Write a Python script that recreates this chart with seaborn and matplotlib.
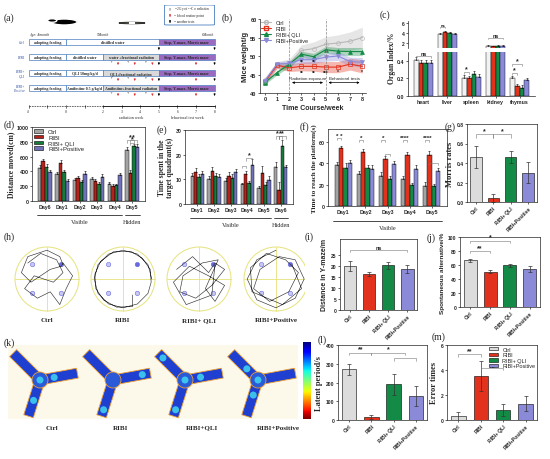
import matplotlib

matplotlib.use("Agg")

import matplotlib.pyplot as plt
from matplotlib.lines import Line2D
from matplotlib.patches import Circle, Ellipse, FancyBboxPatch, Patch, Polygon, Rectangle
import numpy as np
import pandas as pd
import seaborn as sns

W, H = 550, 460

GROUPS = ["Ctrl", "RIBI", "RIBI+ QLI", "RIBI+Positive"]
BAR_COLORS = ["#dcdcdc", "#e2321e", "#138a45", "#8a8ad8"]
DARK_COLORS = ["#a3a3a3", "#b3221b", "#177a3c", "#6f72b8"]

# (b) body weight
weeks = [0, 1, 2, 3, 4, 5, 6, 7, 8]
weight_ctrl = [43.5, 47.5, 48.0, 51.5, 52.0, 53.2, 53.5, 54.0, 55.0]
weight_ribi = [43.0, 47.5, 46.8, 47.2, 47.2, 47.0, 47.0, 47.8, 47.2]
weight_qli = [42.8, 45.5, 47.8, 50.5, 49.8, 51.7, 51.3, 51.2, 51.2]
weight_pos = [43.3, 47.8, 48.0, 49.0, 49.0, 49.7, 50.0, 48.5, 48.3]
sd_ctrl = [0.8, 1.0, 1.2, 1.5, 1.8, 2.0, 2.2, 2.5, 2.8]
sd_ribi = [0.6, 0.8, 1.0, 1.2, 1.3, 1.5, 1.5, 1.6, 1.8]
sd_qli = [0.5, 0.6, 0.8, 0.8, 0.9, 0.9, 1.0, 1.1, 1.1]
sd_pos = [0.6, 0.6, 0.8, 1.0, 1.1, 1.1, 1.2, 1.2, 1.3]

# (c) organ index
organs = ["heart", "liver", "spleen", "kidney", "thymus"]
organ_ctrl = [0.41, 3.9, 0.21, 1.50, 0.20]
organ_ribi = [0.38, 4.3, 0.20, 1.42, 0.11]
organ_qli = [0.38, 4.0, 0.25, 1.50, 0.09]
organ_pos = [0.38, 3.8, 0.22, 1.46, 0.18]
organ_err = [0.03, 0.25, 0.03, 0.08, 0.03]

# (d) distance moved
d_days = ["Day6", "Day1", "Day2", "Day3", "Day4", "Day5"]
d_ctrl = [440, 360, 280, 300, 230, 690]
d_ribi = [540, 510, 310, 270, 200, 375]
d_qli = [460, 395, 260, 230, 210, 745]
d_pos = [395, 270, 370, 330, 350, 730]
d_err_ctrl = [40, 35, 25, 30, 30, 45]
d_err_ribi = [30, 40, 30, 25, 25, 50]
d_err_qli = [40, 30, 25, 25, 25, 30]
d_err_pos = [30, 25, 40, 35, 30, 35]

# (e) time in target quadrant
e_days = ["Day1", "Day2", "Day3", "Day4", "Day5", "Day6"]
e_ctrl = [11.5, 10.3, 9.5, 8.0, 6.5, 15.0]
e_ribi = [13.0, 13.3, 11.3, 12.0, 12.5, 5.5]
e_qli = [11.0, 11.5, 10.5, 8.5, 7.8, 23.5]
e_pos = [12.0, 11.0, 12.8, 15.8, 9.7, 15.0]
e_err_ctrl = [1.2, 1.0, 1.2, 0.6, 0.8, 2.0]
e_err_ribi = [1.5, 1.5, 1.5, 1.5, 3.0, 3.5]
e_err_qli = [1.3, 1.0, 1.5, 0.8, 1.0, 2.5]
e_err_pos = [1.3, 1.3, 1.5, 2.5, 1.5, 1.0]

# (f) escape latency
f_days = ["Day1", "Day2", "Day3", "Day4", "Day5"]
f_ctrl = [38.0, 29.5, 28.5, 25.0, 19.0]
f_ribi = [54.0, 50.5, 44.0, 47.5, 48.0]
f_qli = [36.0, 35.5, 25.5, 19.5, 18.5]
f_pos = [40.0, 35.0, 39.0, 35.0, 33.0]
f_err_ctrl = [3, 3, 3, 3, 3]
f_err_ribi = [2, 3, 3, 3, 3]
f_err_qli = [4, 3, 3, 2, 2]
f_err_pos = [3, 3, 3, 3, 3]

# single bar panels
morris_rates = [0.46, 0.04, 0.46, 0.30]
morris_err = [0.11, 0.04, 0.06, 0.11]
ymaze_dist = [19.8, 16.3, 20.2, 18.5]
ymaze_dist_err = [2.2, 0.8, 1.5, 1.7]
alternation = [67.0, 50.5, 59.5, 54.0]
alternation_err = [2.0, 2.0, 2.5, 4.5]
latent_period = [270, 18, 190, 128]
latent_err = [30, 10, 55, 55]
error_times = [0.3, 3.5, 0.8, 1.3]
error_err = [0.35, 1.2, 0.5, 0.6]

# (h) swim paths, in units of pool radius
path_ctrl = [(-0.6, 0.5), (-0.2, 0.8), (0.3, 0.6), (0.5, 0.2), (0.2, -0.1), (-0.4, 0.1),
             (-0.7, -0.3), (-0.3, -0.6), (0.1, -0.4), (0.4, -0.8), (0.6, -0.3), (0.8, 0.1),
             (0.5, 0.5), (0.45, 0.4), (0.1, 0.3), (-0.5, -0.1), (-0.8, 0.2), (-0.6, 0.7),
             (0.0, 0.9), (0.4, 0.7), (0.5, 0.45)]
path_ribi = [(0.9, 0.0), (0.78, 0.45), (0.45, 0.78), (0.0, 0.9), (-0.45, 0.78), (-0.78, 0.45),
             (-0.9, 0.0), (-0.78, -0.45), (-0.45, -0.78), (0.0, -0.9), (0.45, -0.78),
             (0.78, -0.45), (0.88, -0.1), (0.85, 0.3), (0.6, 0.65), (0.25, 0.86),
             (-0.3, 0.85), (-0.7, 0.55), (-0.88, 0.15), (-0.85, -0.3), (-0.6, -0.66),
             (-0.2, -0.88), (0.3, -0.86), (0.3, -0.5)]
path_qli = [(-0.7, 0.3), (-0.2, 0.7), (0.3, 0.2), (0.5, 0.5), (0.8, 0.3), (0.4, -0.2),
            (-0.1, -0.6), (-0.6, -0.4), (-0.5, 0.1), (0.1, 0.5), (0.6, 0.6), (0.2, -0.3),
            (0.5, -0.7), (0.8, -0.2), (0.3, 0.1), (-0.3, 0.4), (-0.8, -0.1), (-0.4, -0.8),
            (0.4, -0.5), (0.5, 0.45)]
path_pos = [(0.0, 0.9), (-0.6, 0.6), (-0.9, 0.0), (-0.6, -0.65), (0.0, -0.9), (0.6, -0.6),
            (0.88, 0.0), (0.6, 0.6), (0.1, 0.7), (-0.5, 0.3), (-0.7, -0.3), (-0.2, -0.7),
            (0.4, -0.4), (0.7, 0.2), (0.3, 0.6), (-0.3, 0.8), (-0.8, 0.35), (-0.75, -0.4),
            (0.2, -0.8), (0.8, -0.3), (0.5, 0.45)]
swim_paths = [path_ctrl, path_ribi, path_qli, path_pos]

# (k) bright spots in the Y-maze heat maps: (arm, fraction along arm)
spots_ctrl = [(None, 0.0), (2, 0.55), (1, 0.3)]
spots_ribi = [(1, 0.85), (2, 0.9)]
spots_qli = [(0, 0.9), (None, 0.0), (1, 0.35), (2, 0.9)]
spots_pos = [(None, 0.0), (0, 0.35), (2, 0.35)]
maze_spots = [spots_ctrl, spots_ribi, spots_qli, spots_pos]

sns.set_style("ticks")
plt.rcParams["font.family"] = ["Liberation Sans", "DejaVu Sans"]
plt.rcParams["axes.linewidth"] = 0.5
plt.rcParams["xtick.major.width"] = 0.5
plt.rcParams["ytick.major.width"] = 0.5
plt.rcParams["xtick.major.size"] = 1.5
plt.rcParams["ytick.major.size"] = 1.5
plt.rcParams["xtick.major.pad"] = 1
plt.rcParams["ytick.major.pad"] = 1

SERIF = ["Liberation Serif", "DejaVu Serif"]

fig = plt.figure(figsize=(5.5, 4.6), dpi=100)


def px_axes(x0, y0, x1, y1):
    return fig.add_axes([x0 / W, 1 - y1 / H, (x1 - x0) / W, (y1 - y0) / H])


def panel_label(x, y, text):
    fig.text(x / W, 1 - y / H, text, family=SERIF, fontsize=7, va="center", ha="left")


def style_ticks(ax, size=3.8):
    ax.tick_params(labelsize=size)
    for lab in ax.get_xticklabels() + ax.get_yticklabels():
        lab.set_fontweight("bold")


def bracket(ax, x1, x2, y, h, text, fs=5, color="#777777"):
    ax.plot([x1, x1, x2, x2], [y - h, y, y, y - h], color=color, lw=0.4, clip_on=False)
    ax.text((x1 + x2) / 2, y, text, ha="center", va="bottom", fontsize=fs,
            fontweight="bold", clip_on=False)


def grouped_bars(ax, days, values, errors, colors):
    rows = []
    for g, vals in zip(GROUPS, values):
        for d, v in zip(days, vals):
            rows.append({"day": d, "group": g, "value": v})
    df = pd.DataFrame(rows)
    sns.barplot(data=df, x="day", y="value", hue="group", hue_order=GROUPS,
                palette=colors, saturation=1, errorbar=None, edgecolor="black",
                linewidth=0.3, width=0.8, legend=False, ax=ax)
    centers = []
    for cont, vals, errs in zip(ax.containers, values, errors):
        xs = [b.get_x() + b.get_width() / 2 for b in cont]
        ax.errorbar(xs, vals, yerr=[[0] * len(errs), errs], fmt="none", ecolor="black",
                    elinewidth=0.4, capsize=0.8, capthick=0.4)
        centers.append(xs)
    ax.set_xlabel("")
    ax.set_ylabel("")
    return centers


def group_line(ax, x1, x2, text):
    tr = ax.get_xaxis_transform()
    ax.plot([x1, x2], [-0.19, -0.19], color="black", lw=0.5, transform=tr, clip_on=False)
    ax.text((x1 + x2) / 2, -0.25, text, transform=tr, ha="center", va="top",
            family=SERIF, fontsize=4.5)


def single_bars(ax, values, errors, ylim, yticks, ylabel, serif=False, label_fs=None):
    sns.barplot(x=GROUPS, y=values, hue=GROUPS, palette=BAR_COLORS, saturation=1,
                edgecolor="black", linewidth=0.4, width=0.65, errorbar=None,
                legend=False, ax=ax)
    xs = [b.get_x() + b.get_width() / 2 for c in ax.containers for b in c]
    ax.errorbar(xs, values, yerr=errors, fmt="none", ecolor="#333333",
                elinewidth=0.5, capsize=1.5, capthick=0.5)
    ax.set_ylim(ylim)
    ax.set_yticks(yticks)
    ax.set_xticks(range(len(GROUPS)))
    ax.set_xticklabels(GROUPS, rotation=45, ha="right", rotation_mode="anchor")
    style_ticks(ax, 3.6)
    if serif:
        ax.set_ylabel(ylabel, family=SERIF, fontsize=label_fs or 6, fontweight="bold",
                      labelpad=2)
    else:
        ax.set_ylabel(ylabel, fontsize=label_fs or 5, fontweight="bold", labelpad=2)
    return xs


# ---------------- (a) schematic ----------------
panel_label(4, 18, "(a)")
ax = px_axes(10, 6, 222, 124)
ax.set_xlim(-3.02, 8.4)
ax.set_ylim(124, 6)
ax.axis("off")

row_y = [43, 58, 74, 89]
row_names = ["Ctrl", "RIBI", "RIBI+\nQLI", "RIBI+\nPositive"]
mid_text = ["distilled water", "distilled water", "QLI 50mg/kg/d", "Amifostine 0.5 g/kg/d"]
rad_text = [None, "water +fractional radiation", "QLI+fractional radiation",
            "Amifostine+fractional radiation"]
for y, name, mt, rt in zip(row_y, row_names, mid_text, rad_text):
    ax.text(-2.25, y, name, ha="right", va="center", fontsize=2.6, style="italic",
            color="#3050a0", family=SERIF)
    ax.add_patch(Rectangle((-2, y - 3), 2, 6, fc="white", ec="#4a7fc0", lw=0.5))
    ax.text(-1, y, "adopting feeding", ha="center", va="center", fontsize=2.8,
            family=SERIF, fontweight="bold")
    end_mid = 5 if rt is None else 2
    ax.add_patch(Rectangle((0, y - 3), end_mid, 6, fc="white", ec="#4a7fc0", lw=0.5))
    ax.text(end_mid / 2, y, mt, ha="center", va="center", fontsize=2.8, family=SERIF,
            fontweight="bold")
    if rt is not None:
        ax.add_patch(Rectangle((2, y - 3), 3, 6, fc="#d9d9d9", ec="#4a7fc0", lw=0.5))
        ax.text(3.5, y, rt, ha="center", va="center", fontsize=2.8, family=SERIF,
                fontweight="bold")
        for xa in [2.8, 3.7, 4.65]:
            ax.annotate("", xy=(xa, y + 8), xytext=(xa, y + 3.5),
                        arrowprops=dict(arrowstyle="-|>", color="#e03030", lw=0.5,
                                        mutation_scale=2.5))
            ax.annotate("", xy=(xa - 0.35, y + 6), xytext=(xa - 0.35, y + 3.5),
                        arrowprops=dict(arrowstyle="-|>", color="#aaaaaa", lw=0.4,
                                        mutation_scale=2))
        ax.annotate("", xy=(7, y + 8), xytext=(7, y + 3.5),
                    arrowprops=dict(arrowstyle="-|>", color="#e03030", lw=0.5,
                                    mutation_scale=2.5))
    ax.add_patch(Rectangle((5, y - 3), 3, 6, fc="#9a6ac0", ec="#4a7fc0", lw=0.5))
    ax.text(6.5, y, "Step, Y-maze, Morris maze", ha="center", va="center", fontsize=2.8,
            family=SERIF, fontweight="bold")
    for xa in [5, 8]:
        ax.annotate("", xy=(xa, y + 8), xytext=(xa, y + 3),
                    arrowprops=dict(arrowstyle="-|>", color="black", lw=0.5,
                                    mutation_scale=2.5))

ax.plot([-2, 2], [107, 107], color="#555555", lw=0.6, ls=(0, (2, 1)))
ax.plot([2, 8], [107, 107], color="black", lw=0.6)
for t in [-2, -1, 0, 1, 2, 3, 4, 5, 6, 7, 8]:
    ax.plot([t, t], [105.5, 108.5], color="black", lw=0.4)
for t in [-2, 0, 2, 3, 4, 5, 6, 7, 8]:
    ax.text(t, 112, str(t), ha="center", va="center", fontsize=2.8, family=SERIF)
ax.text(3.5, 118, "radiation week", ha="center", va="center", fontsize=3, family=SERIF)
ax.text(6.5, 118, "behavioral test week", ha="center", va="center", fontsize=3,
        family=SERIF)
ax.text(-2, 35, "Age: 4month", ha="left", va="center", fontsize=2.8, family=SERIF,
        style="italic")
ax.text(2, 35, "5Month", ha="center", va="center", fontsize=2.8, family=SERIF,
        style="italic")
ax.text(8, 35, "6Month", ha="right", va="center", fontsize=2.8, family=SERIF,
        style="italic")
# mouse and radiation icons
ax.add_patch(Ellipse((-0.1, 23), 1.4, 6, fc="black"))
ax.add_patch(Ellipse((-0.75, 21.5), 0.5, 3.5, fc="black"))
ax.add_patch(Circle((3.55, 24), 0.7, fc="#f2dc3a", ec="#333333", lw=0.8))
ax.add_patch(Circle((3.55, 24), 0.15, fc="#333333"))
# legend box
ax.add_patch(FancyBboxPatch((5.3, 6), 2.7, 20, boxstyle="round,pad=0,rounding_size=0.3",
                            fc="white", ec="#4a7fc0", lw=0.6))
leg_items = [("#aaaaaa", "= 2Gy of $^{60}$Co-radiation"), ("#e03030", "= blood routine point"),
             ("black", "= another tests")]
for i, (c, t) in enumerate(leg_items):
    yy = 10 + i * 6
    ax.annotate("", xy=(5.6, yy + 1.8), xytext=(5.6, yy - 1.8),
                arrowprops=dict(arrowstyle="-|>", color=c, lw=0.5, mutation_scale=2.5))
    ax.text(5.8, yy, t, ha="left", va="center", fontsize=2.5, family=SERIF)

# ---------------- (b) body weight ----------------
panel_label(222, 18, "(b)")
ax = px_axes(260, 20, 366, 94)
series_b = [
    ("Ctrl", weight_ctrl, sd_ctrl, "#b8b8b8", "o", "none"),
    ("RIBI", weight_ribi, sd_ribi, "#e2321e", "s", "none"),
    ("RIBI+ QLI", weight_qli, sd_qli, "#138a45", "^", "#138a45"),
    ("RIBI+Positive", weight_pos, sd_pos, "#8a8ad8", "v", "#8a8ad8"),
]
handles = []
for name, vals, sd, col, mk, mfc in series_b:
    lo = [v - s for v, s in zip(vals, sd)]
    hi = [v + s for v, s in zip(vals, sd)]
    ax.fill_between(weeks, lo, hi, color=col, alpha=0.35, lw=0)
    sns.lineplot(x=weeks, y=vals, color=col, lw=0.8, marker=mk, markersize=2.8,
                 markerfacecolor=mfc, markeredgecolor=col, markeredgewidth=0.5, ax=ax)
    handles.append(Line2D([], [], color=col, lw=0.8, marker=mk, markersize=2.8,
                          markerfacecolor=mfc, markeredgecolor=col, label=name))
ax.axvline(2, color="#888888", lw=0.5, ls="--")
ax.axvline(5, color="#888888", lw=0.5, ls="--")
ax.annotate("", xy=(5, 42.8), xytext=(2, 42.8),
            arrowprops=dict(arrowstyle="<|-|>", lw=0.5, color="black", mutation_scale=3))
ax.annotate("", xy=(8, 42.8), xytext=(5, 42.8),
            arrowprops=dict(arrowstyle="<|-|>", lw=0.5, color="black", mutation_scale=3))
ax.text(3.5, 43.5, "Radiation exposure", ha="center", va="bottom", fontsize=3.2)
ax.text(6.5, 43.5, "Behavioral tests", ha="center", va="bottom", fontsize=3.2)
for xs, ys, t in [(3, 48.6, "**"), (4, 48.6, "**"), (3, 45.6, "**"), (4, 45.6, "**"),
                  (5, 45.6, "***"), (6, 45.9, "*"), (8, 45.9, "*")]:
    ax.text(xs, ys, t, ha="center", va="center", fontsize=3.5, fontweight="bold")
ax.set_xlim(-0.4, 8.3)
ax.set_ylim(40, 60)
ax.set_xticks(weeks)
ax.set_yticks([40, 45, 50, 55, 60])
sns.despine(ax=ax)
style_ticks(ax, 4)
ax.set_xlabel("Time Course/week", fontsize=5, fontweight="bold", labelpad=2)
ax.set_ylabel("Mice weight/g", fontsize=5.5, fontweight="bold", labelpad=1)
ax.legend(handles=handles, loc="upper left", fontsize=4, frameon=False, handlelength=1.8,
          labelspacing=0.15, borderaxespad=0.1, borderpad=0.1)

# ---------------- (c) organ index ----------------
panel_label(380, 15, "(c)")
ax_top = px_axes(408, 22, 535, 49)
ax_bot = px_axes(408, 53, 535, 97)
organ_vals = [organ_ctrl, organ_ribi, organ_qli, organ_pos]
organ_errs = [organ_err] * 4
c_colors = ["#f2f2f2", "#e2321e", "#138a45", "#8a8ad8"]
for axc in (ax_top, ax_bot):
    cen = grouped_bars(axc, organs, organ_vals, organ_errs, c_colors)
ax_top.set_ylim(1, 6.5)
ax_top.set_yticks([2, 4, 6])
ax_bot.set_ylim(0, 0.5)
ax_bot.set_yticks([0.0, 0.2, 0.4])
ax_top.set_xticks([])
ax_top.spines["bottom"].set_visible(False)
for s in ["top", "right"]:
    ax_top.spines[s].set_visible(False)
    ax_bot.spines[s].set_visible(False)
ax_bot.tick_params(axis="x", length=1.5)
style_ticks(ax_top, 3.6)
style_ticks(ax_bot, 3.8)
bracket(ax_bot, cen[0][0], cen[3][0], 0.45, 0.02, "ns", fs=4)
bracket(ax_bot, cen[0][2], cen[1][2], 0.27, 0.02, "*", fs=5)
bracket(ax_bot, cen[0][4], cen[1][4], 0.26, 0.02, "*", fs=5)
bracket(ax_bot, cen[0][4], cen[2][4], 0.36, 0.02, "*", fs=5)
bracket(ax_top, cen[0][3], cen[3][3], 3.0, 0.2, "ns", fs=4)
bracket(ax_top, cen[0][1], cen[1][1], 5.3, 0.2, "ns", fs=3)
fig.text(392 / W, 1 - 58 / H, "Organ Index/%", rotation=90, family=SERIF, fontsize=5.5,
         fontweight="bold", ha="center", va="center")

# ---------------- (d) distance moved ----------------
panel_label(4, 125, "(d)")
ax = px_axes(32, 128, 145, 202)
cen = grouped_bars(ax, d_days, [d_ctrl, d_ribi, d_qli, d_pos],
                   [d_err_ctrl, d_err_ribi, d_err_qli, d_err_pos], DARK_COLORS)
ax.set_ylim(0, 1000)
ax.set_yticks(range(0, 1001, 200))
style_ticks(ax, 3.8)
ax.set_ylabel("Distance moved(cm)", family=SERIF, fontsize=5.5, fontweight="bold", labelpad=1)
group_line(ax, -0.45, 4.45, "Visible")
group_line(ax, 4.6, 5.45, "Hidden")
bracket(ax, cen[0][5], cen[2][5], 820, 30, "*", fs=5)
bracket(ax, cen[1][5], cen[2][5], 790, 30, "*", fs=5)
bracket(ax, cen[1][5], cen[3][5], 820, 30, "*", fs=5)
ax.legend(handles=[Patch(facecolor=c, edgecolor="black", lw=0.4, label=g)
                   for c, g in zip(DARK_COLORS, GROUPS)],
          loc="upper left", fontsize=4.3, frameon=False, handlelength=1.6,
          handleheight=0.6, labelspacing=0.15, borderaxespad=0.2, borderpad=0.1)

# ---------------- (e) target quadrant ----------------
panel_label(157, 130, "(e)")
ax = px_axes(185, 131, 293, 205)
cen = grouped_bars(ax, e_days, [e_ctrl, e_ribi, e_qli, e_pos],
                   [e_err_ctrl, e_err_ribi, e_err_qli, e_err_pos], DARK_COLORS)
ax.set_ylim(0, 30)
ax.set_yticks([0, 10, 20, 30])
style_ticks(ax, 3.8)
ax.set_ylabel("Time spent in the\ntarget quadrant(s)", family=SERIF, fontsize=5.5,
              fontweight="bold", labelpad=1, linespacing=1.0)
group_line(ax, -0.45, 4.45, "Visible")
group_line(ax, 4.6, 5.45, "Hidden")
bracket(ax, cen[0][3], cen[1][3], 15.5, 1, "", fs=5)
bracket(ax, cen[1][3], cen[3][3], 18.5, 1, "*", fs=5)
bracket(ax, cen[0][5], cen[1][5], 27.5, 1, "*", fs=5)
bracket(ax, cen[1][5], cen[2][5], 27.5, 1, "*", fs=5)
bracket(ax, cen[1][5], cen[3][5], 27.5, 1, "*", fs=5)

# ---------------- (f) escape latency ----------------
panel_label(300, 127, "(f)")
ax = px_axes(328, 130, 447, 207)
cen = grouped_bars(ax, f_days, [f_ctrl, f_ribi, f_qli, f_pos],
                   [f_err_ctrl, f_err_ribi, f_err_qli, f_err_pos], DARK_COLORS[:1] +
                   ["#e2321e", "#138a45", "#8a8ad8"])
ax.set_ylim(0, 72)
ax.set_yticks([0, 20, 40, 60])
style_ticks(ax, 3.8)
ax.set_ylabel("Time to reach the platform(s)", family=SERIF, fontsize=5,
              fontweight="bold", labelpad=1)
group_line(ax, -0.45, 4.45, "Visible")
for di, txt in enumerate(["* *", "*", "*", "****", "****"]):
    bracket(ax, cen[0][di], cen[1][di], 62 if di else 64, 2, txt, fs=4.5)
bracket(ax, cen[1][2], cen[2][2], 49, 2, "", fs=4.5)
bracket(ax, cen[1][4], cen[3][4], 40, 2, "", fs=4.5)

# ---------------- (g) Morris rates ----------------
panel_label(445, 127, "(g)")
ax = px_axes(467, 125, 537, 203)
xs = single_bars(ax, morris_rates, morris_err, (0, 0.8), [0.0, 0.2, 0.4, 0.6, 0.8],
                 "Morris rates", serif=True)
bracket(ax, xs[0], xs[1], 0.7, 0.04, "*", fs=5)
bracket(ax, xs[1], xs[2], 0.7, 0.04, "*", fs=5)

# ---------------- (h) swim paths ----------------
panel_label(4, 237, "(h)")
ax = px_axes(0, 240, 305, 332)
ax.set_xlim(0, 305)
ax.set_ylim(332, 240)
ax.axis("off")
pool_x = [47, 123, 199, 276]
pool_y = 280
r = 32
for cx, path, name in zip(pool_x, swim_paths, ["Ctrl", "RIBI", "RIBI+ QLI", "RIBI+Positive"]):
    ax.add_patch(Circle((cx, pool_y), r, fc="white", ec="#e6e27a", lw=0.7))
    ax.plot([cx - r, cx + r], [pool_y, pool_y], color="#e6e27a", lw=0.6)
    ax.plot([cx, cx], [pool_y - r, pool_y + r], color="#e6e27a", lw=0.6)
    for qx, qy in [(-0.45, -0.45), (0.45, -0.45), (-0.45, 0.45), (0.45, 0.45)]:
        target = qx > 0 and qy < 0
        ax.add_patch(Circle((cx + qx * r, pool_y + qy * r), 2.2,
                            fc="#6a6ae0" if target else "#c8c8f4",
                            ec="#6a6ae0", lw=0.4))
    pxs = [cx + p[0] * r for p in path]
    pys = [pool_y - p[1] * r for p in path]
    ax.plot(pxs, pys, color="#333333", lw=0.45)
    ax.text(cx, 321, name, ha="center", va="center", family=SERIF, fontsize=5,
            fontweight="bold")

# ---------------- (i) Y-maze distance ----------------
panel_label(305, 237, "(i)")
ax = px_axes(340, 240, 417, 311)
xs = single_bars(ax, ymaze_dist, ymaze_dist_err, (0, 32), [0, 5, 10, 15, 20, 25],
                 "Distance in Y-maze/m")
bracket(ax, xs[0], xs[3], 27, 0.8, "ns", fs=4)

# ---------------- (j) spontaneous alternation ----------------
panel_label(427, 238, "(j)")
ax = px_axes(460, 238, 540, 308)
xs = single_bars(ax, alternation, alternation_err, (0, 100), [0, 20, 40, 60, 80, 100],
                 "Spontaneous alternative/%", label_fs=4.6)
bracket(ax, xs[0], xs[1], 80, 3, "**", fs=5)
bracket(ax, xs[0], xs[2], 95, 3, "*", fs=5)

# ---------------- (k) Y-maze heat maps ----------------
panel_label(4, 343, "(k)")
ax = px_axes(0, 343, 300, 435)
ax.set_xlim(0, 300)
ax.set_ylim(435, 343)
ax.axis("off")
ax.add_patch(Rectangle((8, 346), 290, 74, fc="#fdf9ea", ec="none"))
arm_dirs = [np.array([-0.7, -0.7]), np.array([0.98, -0.18]), np.array([-0.3, 0.95])]
maze_x = [40, 113, 185, 258]
maze_y = 381
arm_len, arm_w = 38, 10
for cx, spots, name, lx in zip(maze_x, maze_spots, ["Ctrl", "RIBI", "RIBI+QLI", "RIBI+Positive"],
                               [52, 121, 202, 278]):
    c = np.array([cx, maze_y])
    for d in arm_dirs:
        d = d / np.linalg.norm(d)
        n = np.array([-d[1], d[0]])
        p0 = c + d * 6
        p1 = c + d * arm_len
        poly = [p0 + n * arm_w / 2, p1 + n * arm_w / 2, p1 - n * arm_w / 2, p0 - n * arm_w / 2]
        ax.add_patch(Polygon(poly, closed=True, fc="#1f3fd0", ec="#f0a030", lw=0.6))
    ax.add_patch(Circle((cx, maze_y), 8, fc="#2a5ad8", ec="#f0a030", lw=0.6))
    for arm, frac in spots:
        if arm is None:
            pos = c
        else:
            d = arm_dirs[arm] / np.linalg.norm(arm_dirs[arm])
            pos = c + d * (6 + frac * (arm_len - 10))
        ax.add_patch(Circle(pos, 3.5, fc="#40d8f0", ec="none", alpha=0.85))
    ax.text(lx, 428, name, ha="center", va="center", family=SERIF, fontsize=5,
            fontweight="bold")

cax = px_axes(303, 343, 311, 420)
cax.imshow(np.linspace(0, 1, 100).reshape(-1, 1), aspect="auto", cmap="jet")
cax.set_xticks([])
cax.set_yticks([])
for s in cax.spines.values():
    s.set_visible(False)

# ---------------- (l) latent period ----------------
panel_label(318, 340, "(l)")
ax = px_axes(338, 346, 427, 421)
xs = single_bars(ax, latent_period, latent_err, (0, 400), [0, 100, 200, 300, 400],
                 "Latent period/s", serif=True)
bracket(ax, xs[0], xs[1], 360, 15, "**", fs=5)
bracket(ax, xs[1], (xs[2] + xs[3]) / 2, 360, 15, "*", fs=5)
bracket(ax, xs[2], xs[3], 330, 15, "", fs=5)

# ---------------- (m) error times ----------------
panel_label(432, 337, "(m)")
ax = px_axes(447, 346, 537, 421)
xs = single_bars(ax, error_times, error_err, (0, 6), [0, 2, 4, 6], "Error times",
                 serif=True)
bracket(ax, xs[0], xs[1], 5.3, 0.25, "**", fs=5)
bracket(ax, xs[1], xs[2], 4.2, 0.2, "ns", fs=3.5)
ax.legend(handles=[Patch(facecolor=c, edgecolor="black", lw=0.4, label=g)
                   for c, g in zip(BAR_COLORS, GROUPS)],
          loc="upper right", fontsize=4, frameon=False, handlelength=1.6,
          handleheight=0.6, labelspacing=0.1, borderaxespad=0.2, borderpad=0.1)

fig.savefig("out.png", dpi=100)
